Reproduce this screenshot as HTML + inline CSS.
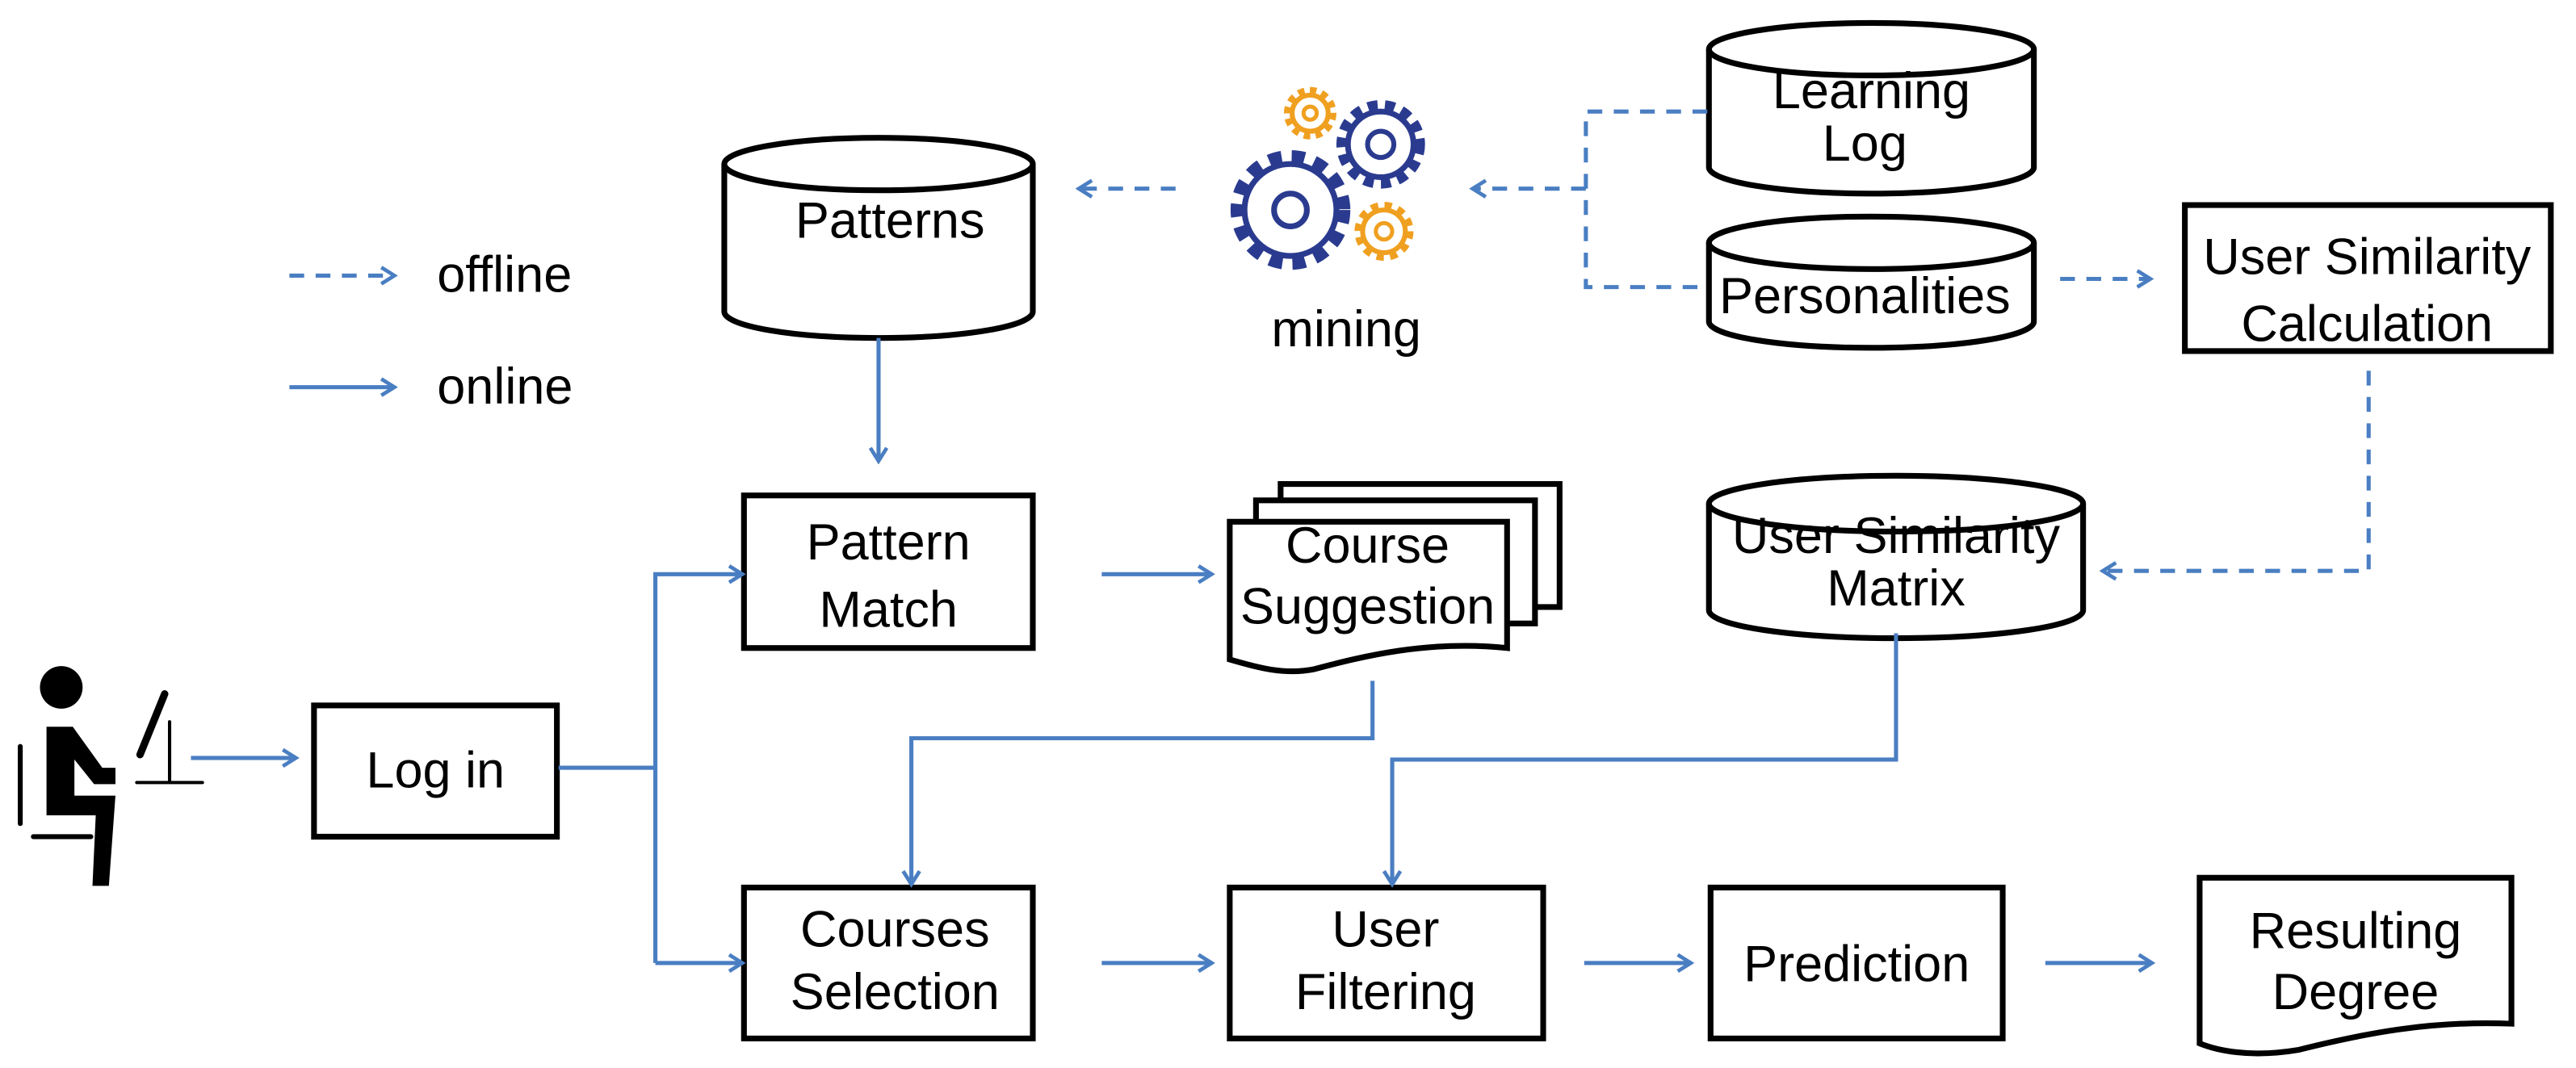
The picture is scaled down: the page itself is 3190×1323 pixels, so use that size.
<!DOCTYPE html>
<html><head><meta charset="utf-8"><style>
html,body{margin:0;padding:0;background:#fff}
svg{display:block}
text{font-family:"Liberation Sans",sans-serif;font-size:31px;fill:#000;text-anchor:middle}
</style></head><body>
<svg width="3190" height="1323" viewBox="0 0 1569 651" xmlns="http://www.w3.org/2000/svg">
<defs>
<marker id="ah" markerWidth="12" markerHeight="12" refX="10" refY="6" orient="auto" markerUnits="userSpaceOnUse">
<path d="M2,1 L10,6 L2,11" fill="none" stroke="#4a7ec2" stroke-width="2.3"/>
</marker>
</defs>
<g fill="none" stroke="#000" stroke-width="3.5">
<path d="M441,100 L441,190 A94,16 0 0 0 629,190 L629,100" fill="#fff"/>
<ellipse cx="535" cy="100" rx="94" ry="16"/>
<path d="M1041,30 L1041,102 A99,16 0 0 0 1239,102 L1239,30" fill="#fff"/>
<ellipse cx="1140" cy="30" rx="99" ry="16"/>
<path d="M1041,148 L1041,196 A99,16 0 0 0 1239,196 L1239,148"/>
<ellipse cx="1140" cy="148" rx="99" ry="16"/>
<path d="M1041,307 L1041,372 A114,17 0 0 0 1269,372 L1269,307"/>
<ellipse cx="1155" cy="307" rx="114" ry="17"/>
<rect x="191" y="430" width="148" height="80"/>
<rect x="453" y="302" width="176" height="93"/>
<rect x="453" y="541" width="176" height="92"/>
<rect x="749" y="541" width="191" height="92"/>
<rect x="1042" y="541" width="178" height="92"/>
<rect x="1331" y="125" width="223" height="89"/>
<path d="M780,370 L780,295 L950,295 L950,370 Z" fill="#fff"/>
<path d="M765,380 L765,305 L935,305 L935,380 Z" fill="#fff"/>
<path d="M749,318 L918,318 L918,395 C870,390 830,400 800,408 C780,412 760,405 749,402 Z" fill="#fff"/>
<path d="M1340,535 L1530,535 L1530,624 C1480,622 1440,630 1400,640 C1370,645 1350,640 1340,636 Z" fill="#fff"/>
</g>
<g fill="none" stroke="#4a7ec2" stroke-width="2.5">
<g stroke-dasharray="9,7">
<line x1="176" y1="168" x2="240" y2="168" marker-end="url(#ah)"/>
<line x1="716" y1="115" x2="657" y2="115" marker-end="url(#ah)"/>
<polyline points="1040,68 966,68 966,175 1040,175"/>
<line x1="966" y1="115" x2="897" y2="115" marker-end="url(#ah)"/>
<line x1="1255" y1="170" x2="1310" y2="170" marker-end="url(#ah)"/>
<polyline points="1443,226 1443,348 1281,348" marker-end="url(#ah)"/>
</g>
<line x1="176" y1="236" x2="240" y2="236" marker-end="url(#ah)"/>
<line x1="535" y1="206" x2="535" y2="281" marker-end="url(#ah)"/>
<line x1="116" y1="462" x2="180" y2="462" marker-end="url(#ah)"/>
<polyline points="340,468 399,468"/>
<polyline points="399,587 399,350 452,350" marker-end="url(#ah)"/>
<polyline points="399,587 452,587" marker-end="url(#ah)"/>
<line x1="671" y1="350" x2="738" y2="350" marker-end="url(#ah)"/>
<polyline points="836,415 836,450 555,450 555,539" marker-end="url(#ah)"/>
<polyline points="1155,386 1155,463 848,463 848,539" marker-end="url(#ah)"/>
<line x1="671" y1="587" x2="738" y2="587" marker-end="url(#ah)"/>
<line x1="965" y1="587" x2="1030" y2="587" marker-end="url(#ah)"/>
<line x1="1246" y1="587" x2="1311" y2="587" marker-end="url(#ah)"/>
</g>
<g fill="none">
<circle cx="786" cy="128" r="28" stroke="#2a3b8f" stroke-width="3.5"/>
<circle cx="786" cy="128" r="33" stroke="#2a3b8f" stroke-width="7" stroke-dasharray="8,6.2"/>
<circle cx="786" cy="128" r="10" stroke="#2a3b8f" stroke-width="3.5"/>
<circle cx="841" cy="88" r="20" stroke="#2a3b8f" stroke-width="3.5"/>
<circle cx="841" cy="88" r="24" stroke="#2a3b8f" stroke-width="6" stroke-dasharray="6,4.5"/>
<circle cx="841" cy="88" r="8" stroke="#2a3b8f" stroke-width="3"/>
<circle cx="798" cy="69" r="11" stroke="#f0a020" stroke-width="3"/>
<circle cx="798" cy="69" r="14" stroke="#f0a020" stroke-width="4" stroke-dasharray="4,3.3"/>
<circle cx="798" cy="69" r="4" stroke="#f0a020" stroke-width="2.5"/>
<circle cx="843" cy="141" r="13" stroke="#f0a020" stroke-width="3"/>
<circle cx="843" cy="141" r="16" stroke="#f0a020" stroke-width="4" stroke-dasharray="4.5,3.9"/>
<circle cx="843" cy="141" r="5" stroke="#f0a020" stroke-width="2.5"/>
</g>
<g fill="#000" stroke="#000" stroke-linecap="round">
<circle cx="37" cy="419" r="13" stroke="none"/>
<path d="M28,443 L44,443 L62,468 L70,468 L70,478 L57,478 L45,463 L45,485 L70,485 L66,540 L56,540 L58,497 L28,497 Z" stroke="none"/>
<line x1="12" y1="455" x2="12" y2="502" stroke-width="3"/>
<line x1="20" y1="510" x2="55" y2="510" stroke-width="3"/>
<line x1="100" y1="423" x2="85" y2="460" stroke-width="4.5"/>
<line x1="103" y1="440" x2="103" y2="476" stroke-width="2"/>
<line x1="83" y1="477" x2="123" y2="477" stroke-width="2"/>
</g>
<text x="266" y="178" style="text-anchor:start">offline</text>
<text x="266" y="246" style="text-anchor:start">online</text>
<text x="542" y="145">Patterns</text>
<text x="820" y="211">mining</text>
<text x="1140" y="66">Learning</text>
<text x="1136" y="98">Log</text>
<text x="1136" y="191">Personalities</text>
<text x="1442" y="167">User Similarity</text>
<text x="1442" y="208">Calculation</text>
<text x="1155" y="337">User Similarity</text>
<text x="1155" y="369">Matrix</text>
<text x="541" y="341">Pattern</text>
<text x="541" y="382">Match</text>
<text x="833" y="343">Course</text>
<text x="833" y="380">Suggestion</text>
<text x="265" y="480">Log in</text>
<text x="545" y="577">Courses</text>
<text x="545" y="615">Selection</text>
<text x="844" y="577">User</text>
<text x="844" y="615">Filtering</text>
<text x="1131" y="598">Prediction</text>
<text x="1435" y="578">Resulting</text>
<text x="1435" y="615">Degree</text>
</svg>
</body></html>
